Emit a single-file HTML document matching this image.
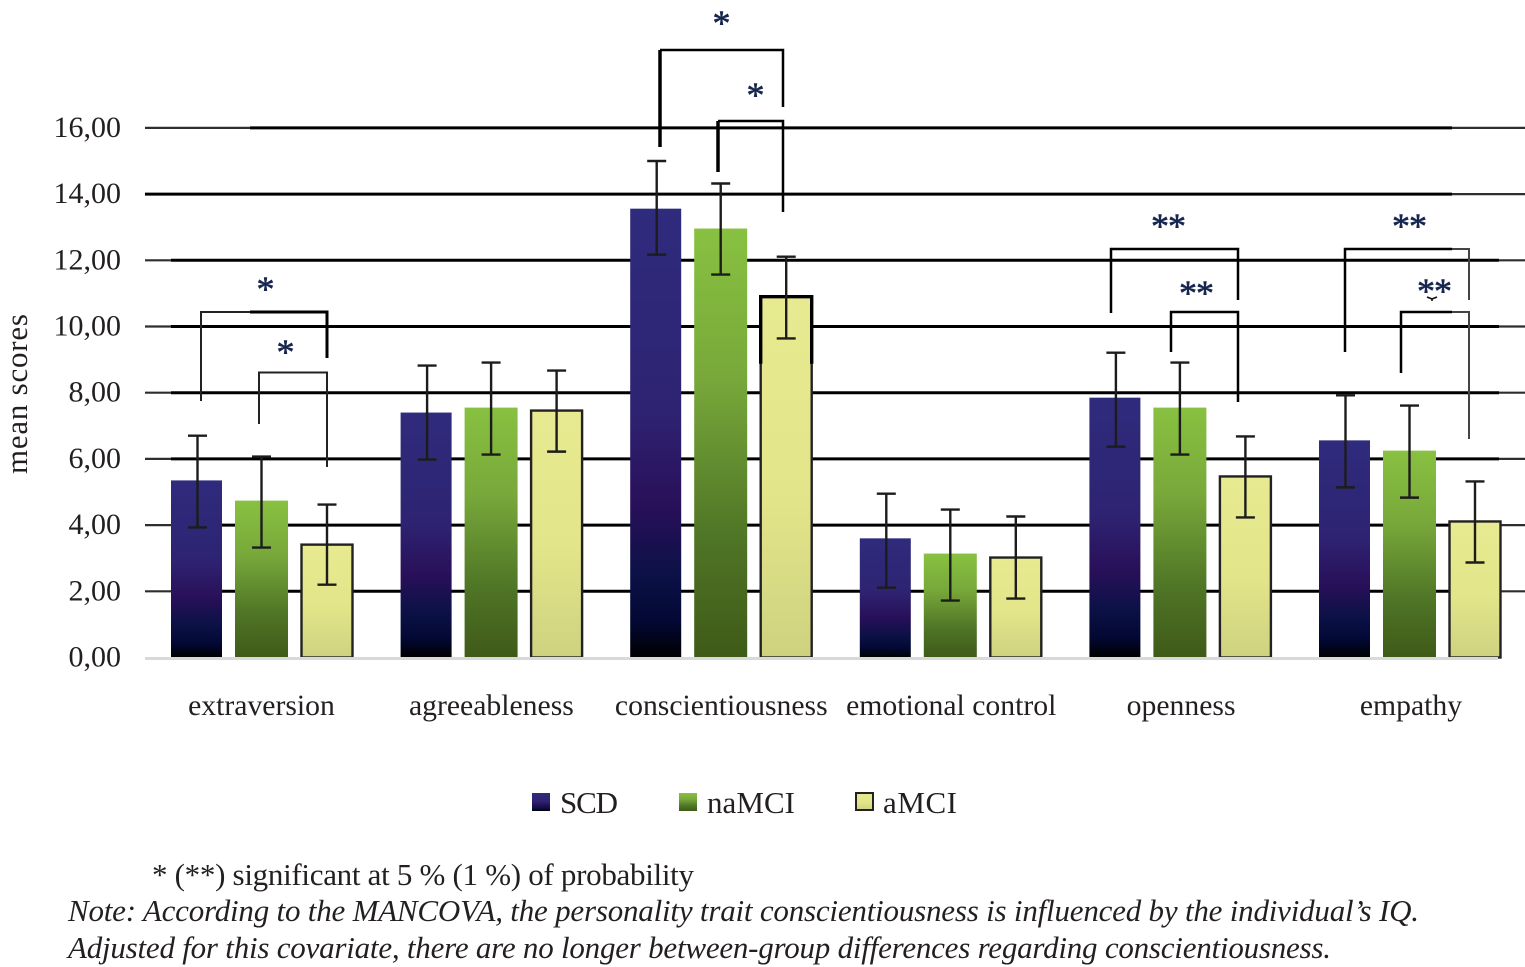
<!DOCTYPE html>
<html lang="en">
<head>
<meta charset="utf-8">
<title>Mean personality scores by group</title>
<style>
html,body{margin:0;padding:0;background:#fff;}
svg{display:block;}
text{font-family:"Liberation Serif",serif;fill:#231f20;}
.t{font-size:30px;}
.c{font-size:29.7px;}
.n{font-size:31px;}
.i{font-size:31px;font-style:italic;}
.star{font-size:36px;letter-spacing:-1px;fill:#16264f;stroke:#16264f;stroke-width:.6px;text-anchor:middle;}
.br{fill:none;stroke:#000;stroke-width:2.5;}
.brl{fill:none;stroke:#000;stroke-width:3.5;}
.brg{fill:none;stroke:#222;stroke-width:2;}
</style>
</head>
<body>
<svg id="chart" xmlns="http://www.w3.org/2000/svg" width="1525" height="967" viewBox="0 0 1525 967">
<defs>
<linearGradient id="gSCD" x1="0" y1="0" x2="0" y2="1">
<stop offset="0" stop-color="#2f2b7d"/><stop offset=".45" stop-color="#2e2372"/><stop offset=".66" stop-color="#29105a"/><stop offset=".82" stop-color="#0b1145"/><stop offset=".92" stop-color="#030834"/><stop offset="1" stop-color="#000"/>
</linearGradient>
<linearGradient id="gNA" x1="0" y1="0" x2="0" y2="1">
<stop offset="0" stop-color="#88c141"/><stop offset=".35" stop-color="#78a83a"/><stop offset=".72" stop-color="#4f7526"/><stop offset="1" stop-color="#3f5a18"/>
</linearGradient>
<linearGradient id="gA" x1="0" y1="0" x2="0" y2="1">
<stop offset="0" stop-color="#e7ea90"/><stop offset=".55" stop-color="#e3e58a"/><stop offset="1" stop-color="#ced27f"/>
</linearGradient>
</defs>
<g id="grid"></g>
<g id="bars"></g>
<g id="errs"></g>
<g id="labels"></g>

<text class="n" transform="translate(27,474) rotate(-90)" textLength="160">mean scores</text>

<g>
<path class="brg" d="M201 401V312H250"/>
<path class="br" style="stroke-width:3" d="M250 312H327V358"/>
<path class="brg" d="M259 424V372.500H327V467"/>
<path class="br" d="M660 50H783V107"/>
<path class="brl" d="M660 147V50"/>
<path class="br" d="M718 121H783V212"/>
<path class="brl" d="M718 172V121"/>
<path class="br" d="M1111 313V249H1238V300"/>
<path class="br" d="M1171 352V312H1238V402"/>
<path class="br" d="M1345 352V249H1452"/>
<path class="brg" style="stroke:#444" d="M1452 249H1469V300"/>
<path class="br" d="M1401 373V312H1452"/>
<path class="brg" style="stroke:#444" d="M1452 312H1469V439"/>
<path fill="none" stroke="#111" stroke-width="1.6" d="M1427 297L1432 299L1437 297M1432 299V301"/>
</g>

<g>
<text class="star" x="265" y="301">*</text>
<text class="star" x="285" y="364">*</text>
<text class="star" x="721" y="35">*</text>
<text class="star" x="755" y="107">*</text>
<text class="star" x="1168" y="238">**</text>
<text class="star" x="1196" y="305">**</text>
<text class="star" x="1409" y="238">**</text>
<text class="star" x="1434" y="303">**</text>
</g>

<g>
<rect x="532" y="793" width="18" height="18" fill="url(#gSCD)"/>
<text class="n" x="560" y="813" textLength="58">SCD</text>
<rect x="679" y="793" width="18" height="18" fill="url(#gNA)"/>
<text class="n" x="707" y="813" textLength="88">naMCI</text>
<rect x="856" y="793" width="17" height="17" fill="url(#gA)" stroke="#222" stroke-width="2"/>
<text class="n" x="883" y="813" textLength="74">aMCI</text>
</g>

<text class="n" x="152" y="885" textLength="542">* (**) significant at 5 % (1 %) of probability</text>
<text class="i" x="68" y="921" textLength="1351">Note: According to the MANCOVA, the personality trait conscientiousness is influenced by the individual’s IQ.</text>
<text class="i" x="68" y="958" textLength="1263">Adjusted for this covariate, there are no longer between-group differences regarding conscientiousness.</text>

<script>
var categories = ["extraversion","agreeableness","conscientiousness","emotional control","openness","empathy"];
var yTickValues = [0,2,4,6,8,10,12,14,16];
var yTickLabels = ["0,00","2,00","4,00","6,00","8,00","10,00","12,00","14,00","16,00"];
var scdMeans = [5.35,7.40,13.56,3.60,7.85,6.56];
var naMeans = [4.74,7.55,12.96,3.14,7.55,6.25];
var aMeans = [3.41,7.46,10.90,3.02,5.47,4.11];
var scdHigh = [6.70,8.82,15.00,4.95,9.21,7.92];
var scdLow = [3.93,5.98,12.17,2.11,6.37,5.14];
var naHigh = [6.07,8.91,14.32,4.47,8.91,7.61];
var naLow = [3.32,6.13,11.57,1.72,6.13,4.83];
var aHigh = [4.62,8.67,12.11,4.26,6.68,5.32];
var aLow = [2.20,6.22,9.64,1.78,4.23,2.87];

var NS = "http://www.w3.org/2000/svg";
function yScale(v){ return 657.5 - v * 33.1; }
function groupX(i){ return 261.5 + i * 229.6; }
function barX(i, s){ return groupX(i) + (s - 1) * (s === 2 ? 65.5 : 65); }
function make(tag, attrs, parent){
  var e = document.createElementNS(NS, tag);
  for (var k in attrs) e.setAttribute(k, attrs[k]);
  parent.appendChild(e);
  return e;
}

var gridG = document.getElementById("grid");
var labelG = document.getElementById("labels");
var barG = document.getElementById("bars");
var errG = document.getElementById("errs");

yTickValues.forEach(function(v, idx){
  var y = yScale(v);
  var lbl = make("text", {x:121, y:y+9, "text-anchor":"end", "class":"t"}, labelG);
  
  
  lbl.textContent = yTickLabels[idx];
  if (v === 0) return;
  var top = v === 16;
  var a = make("line", {x1:145, x2:1525, y1:y, y2:y, stroke:"#2e2e2e", "stroke-width":2.2}, gridG);
  
  
  var b = make("line", {x1:top ? 250 : (v === 14 ? 145 : 171), x2:v >= 14 ? 1452 : 1499, y1:y, y2:y, stroke:"#000", "stroke-width":3}, gridG);
  
  
});

var seriesMeans = [scdMeans, naMeans, aMeans];
var seriesHigh = [scdHigh, naHigh, aHigh];
var seriesLow = [scdLow, naLow, aLow];
var seriesFill = ["url(#gSCD)","url(#gNA)","url(#gA)"];

categories.forEach(function(cat, i){
  var lbl = make("text", {x:groupX(i) + i * 0.3, y:715, "text-anchor":"middle", "class":"c"}, labelG);
  
  
  lbl.textContent = cat;
  seriesMeans.forEach(function(vals, s){
    var cx = barX(i, s);
    var y0 = yScale(vals[i]);
    var outlined = s === 2;
    var r = make("rect", {x:cx-(s===1?26.5:25.5), y:y0, width:s===1?53:51, height:yScale(0)-y0, fill:seriesFill[s], stroke:outlined?"#222":"none", "stroke-width":outlined?2.4:0}, barG);
    
    
    if (i === 2 && s === 2) {
      var edge = make("path", {d:"M"+(cx-25.5)+" "+(y0+67)+"V"+y0+"H"+(cx+25.5)+"V"+(y0+67), fill:"none", stroke:"#000", "stroke-width":3.4}, barG);
      
      
    }
    var hi = yScale(seriesHigh[s][i]);
    var lo = yScale(seriesLow[s][i]);
    var ex = cx + (s === 0 ? 1 : 0);
    var p = make("path", {d:"M"+(ex-9.5)+" "+hi+"H"+(ex+9.5)+"M"+ex+" "+hi+"V"+lo+"M"+(ex-9.5)+" "+lo+"H"+(ex+9.5), fill:"none", stroke:"#1c1c1c", "stroke-width":2.4}, errG);
    
    
  });
});

var axisLine = make("line", {x1:145, x2:1498, y1:yScale(0)+1, y2:yScale(0)+1, stroke:"#d9d9d9", "stroke-width":3}, barG);


</script>
</svg>
</body>
</html>
